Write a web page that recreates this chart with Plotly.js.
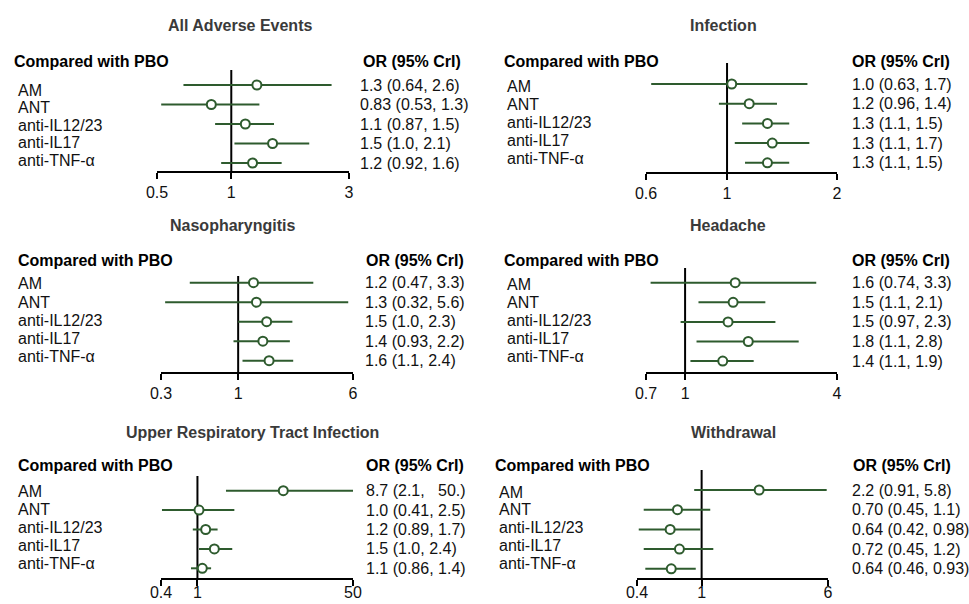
<!DOCTYPE html>
<html>
<head>
<meta charset="utf-8">
<script src="https://cdn.plot.ly/plotly-3.0.1.min.js"></script>
<style>html,body{margin:0;padding:0;background:#fff;}#chart{width:969px;height:604px;}</style>
</head>
<body>
<div id="chart"></div>
<script>
// ---------- data ----------
const treatments = ['AM', 'ANT', 'anti-IL12/23', 'anti-IL17', 'anti-TNF-\u03b1'];
const panelTitles = ['All Adverse Events', 'Infection', 'Nasopharyngitis', 'Headache', 'Upper Respiratory Tract Infection', 'Withdrawal'];
const tickValues = [[0.5, 1, 3], [0.6, 1, 2], [0.3, 1, 6], [0.7, 1, 4], [0.4, 1, 50], [0.4, 1, 6]];
const tickLabels = [['0.5', '1', '3'], ['0.6', '1', '2'], ['0.3', '1', '6'], ['0.7', '1', '4'], ['0.4', '1', '50'], ['0.4', '1', '6']];

const aeEst = [1.27, 0.83, 1.14, 1.47, 1.22];
const aeLo  = [0.64, 0.52, 0.86, 1.03, 0.91];
const aeHi  = [2.55, 1.30, 1.49, 2.07, 1.60];
const aeText = ['1.3 (0.64, 2.6)', '0.83 (0.53, 1.3)', '1.1 (0.87, 1.5)', '1.5 (1.0, 2.1)', '1.2 (0.92, 1.6)'];

const infEst = [1.03, 1.15, 1.29, 1.33, 1.29];
const infLo  = [0.62, 0.95, 1.10, 1.05, 1.12];
const infHi  = [1.66, 1.37, 1.48, 1.68, 1.48];
const infText = ['1.0 (0.63, 1.7)', '1.2 (0.96, 1.4)', '1.3 (1.1, 1.5)', '1.3 (1.1, 1.7)', '1.3 (1.1, 1.5)'];

const nasEst = [1.27, 1.33, 1.56, 1.47, 1.62];
const nasLo  = [0.47, 0.32, 1.00, 0.93, 1.07];
const nasHi  = [3.23, 5.57, 2.33, 2.24, 2.36];
const nasText = ['1.2 (0.47, 3.3)', '1.3 (0.32, 5.6)', '1.5 (1.0, 2.3)', '1.4 (0.93, 2.2)', '1.6 (1.1, 2.4)'];

const hdEst = [1.58, 1.55, 1.48, 1.78, 1.41];
const hdLo  = [0.73, 1.13, 0.96, 1.11, 1.05];
const hdHi  = [3.31, 2.08, 2.28, 2.82, 1.87];
const hdText = ['1.6 (0.74, 3.3)', '1.5 (1.1, 2.1)', '1.5 (0.97, 2.3)', '1.8 (1.1, 2.8)', '1.4 (1.1, 1.9)'];

const urEst = [8.66, 1.04, 1.23, 1.53, 1.13];
const urLo  = [2.05, 0.41, 0.89, 1.04, 0.85];
const urHi  = [50, 2.53, 1.66, 2.40, 1.41];
const urText = ['8.7 (2.1,\u00a0\u00a0 50.)', '1.0 (0.41, 2.5)', '1.2 (0.89, 1.7)', '1.5 (1.0, 2.4)', '1.1 (0.86, 1.4)'];

const wdEst = [2.26, 0.71, 0.64, 0.73, 0.65];
const wdLo  = [0.90, 0.44, 0.41, 0.44, 0.45];
const wdHi  = [5.89, 1.13, 0.98, 1.18, 0.92];
const wdText = ['2.2 (0.91, 5.8)', '0.70 (0.45, 1.1)', '0.64 (0.42, 0.98)', '0.72 (0.45, 1.2)', '0.64 (0.46, 0.93)'];

const estimates = [aeEst, infEst, nasEst, hdEst, urEst, wdEst];
const lowers = [aeLo, infLo, nasLo, hdLo, urLo, wdLo];
const uppers = [aeHi, infHi, nasHi, hdHi, urHi, wdHi];
const orTexts = [aeText, infText, nasText, hdText, urText, wdText];

// ---------- layout geometry (pixels) ----------
const W = 969, H = 604;
const geo = [
  {x0:157, x1:349, axisY:171, refTop:70,  rowAM:85,    step:19.5, labX:16,  labOff:5, labStep:17.5, orX:358, orHdrX:361, hdrX:12,  hdrY:62,  tX:240, tY:25,  standoff:0},
  {x0:646, x1:837, axisY:172, refTop:63,  rowAM:84,    step:19.7, labX:505, labOff:2, labStep:18,   orX:850, orHdrX:850, hdrX:502, hdrY:61,  tX:723, tY:25,  standoff:0},
  {x0:161, x1:353, axisY:372, refTop:276, rowAM:282.7, step:19.5, labX:16,  labOff:1, labStep:18.3, orX:363, orHdrX:364, hdrX:16,  hdrY:260, tX:232, tY:225, standoff:0},
  {x0:646, x1:837, axisY:372, refTop:268, rowAM:282.7, step:19.6, labX:505, labOff:2, labStep:18,   orX:850, orHdrX:850, hdrX:502, hdrY:260, tX:728, tY:225, standoff:0},
  {x0:161, x1:353, axisY:578, refTop:476, rowAM:490.7, step:19.4, labX:16,  labOff:1, labStep:17.9, orX:364, orHdrX:364, hdrX:16,  hdrY:465, tX:252, tY:432, standoff:-7},
  {x0:637, x1:828, axisY:578, refTop:470, rowAM:490,   step:19.7, labX:497, labOff:2, labStep:17.8, orX:850, orHdrX:851, hdrX:493, hdrY:465, tX:733, tY:432, standoff:-7}
];

const GREEN = '#2e5b2e';
const FONT = 'Arial, "Liberation Sans", sans-serif';
const rowVals = [4, 3, 2, 1, 0];

const traces = [];
const layout = {
  width: W, height: H,
  margin: {l: 0, r: 0, t: 0, b: 0},
  paper_bgcolor: '#fff', plot_bgcolor: '#fff',
  showlegend: false,
  font: {family: FONT, size: 16, color: '#111'},
  annotations: []
};

geo.forEach((g, k) => {
  const n = k + 1;
  const xa = 'xaxis' + (n === 1 ? '' : n), ya = 'yaxis' + (n === 1 ? '' : n);
  const xr = 'x' + (n === 1 ? '' : n), yr = 'y' + (n === 1 ? '' : n);
  const tv = tickValues[k];
  const yBottom = 4 - (g.axisY - g.rowAM) / g.step;
  const yTop = 4 - (g.refTop - g.rowAM) / g.step;

  layout[xa] = {
    type: 'log', domain: [g.x0 / W, g.x1 / W], anchor: yr,
    range: [Math.log10(tv[0]), Math.log10(tv[tv.length - 1])],
    tickvals: tv, ticktext: tickLabels[k],
    ticks: 'outside', ticklen: 6, tickwidth: 2, tickcolor: '#000',
    ticklabelstandoff: g.standoff,
    showline: true, linewidth: 2, linecolor: '#000',
    showgrid: false, zeroline: false, fixedrange: true,
    tickfont: {family: FONT, size: 16, color: '#111'}
  };
  layout[ya] = {
    domain: [1 - g.axisY / H, 1 - g.refTop / H], anchor: xr,
    range: [yBottom, yTop], visible: false, fixedrange: true
  };

  // reference line at OR = 1
  traces.push({
    type: 'scatter', mode: 'lines', x: [1, 1], y: [yBottom, yTop],
    xaxis: xr, yaxis: yr, line: {color: '#000', width: 2},
    hoverinfo: 'skip', cliponaxis: false
  });

  const est = estimates[k];
  traces.push({
    type: 'scatter', mode: 'markers', x: est, y: rowVals,
    xaxis: xr, yaxis: yr, cliponaxis: false,
    error_x: {
      type: 'data', symmetric: false,
      array: est.map((v, i) => uppers[k][i] - v),
      arrayminus: est.map((v, i) => v - lowers[k][i]),
      thickness: 2, width: 0, color: GREEN
    },
    marker: {symbol: 'circle', size: 9, color: '#fff', line: {color: GREEN, width: 2}},
    text: treatments, hoverinfo: 'text+x'
  });

  // titles and headers
  layout.annotations.push({
    xref: 'paper', yref: 'paper', x: g.tX / W, y: 1 - g.tY / H,
    xanchor: 'center', yanchor: 'middle', showarrow: false,
    text: '<b>' + panelTitles[k] + '</b>', font: {family: FONT, size: 16, color: '#3a3a3a'}
  });
  layout.annotations.push({
    xref: 'paper', yref: 'paper', x: g.hdrX / W, y: 1 - g.hdrY / H,
    xanchor: 'left', yanchor: 'middle', showarrow: false,
    text: '<b>Compared with PBO</b>', font: {family: FONT, size: 16, color: '#000'}
  });
  layout.annotations.push({
    xref: 'paper', yref: 'paper', x: g.orHdrX / W, y: 1 - g.hdrY / H,
    xanchor: 'left', yanchor: 'middle', showarrow: false,
    text: '<b>OR (95% CrI)</b>', font: {family: FONT, size: 16, color: '#000'}
  });

  treatments.forEach((t, i) => {
    const drop = g.labOff + (g.labStep - g.step) * i;
    layout.annotations.push({
      xref: 'paper', yref: yr, x: g.labX / W, y: rowVals[i], yshift: -drop,
      xanchor: 'left', yanchor: 'middle', showarrow: false,
      text: t, font: {family: FONT, size: 16, color: '#111'}
    });
    layout.annotations.push({
      xref: 'paper', yref: yr, x: g.orX / W, y: rowVals[i],
      xanchor: 'left', yanchor: 'middle', showarrow: false,
      text: orTexts[k][i], font: {family: FONT, size: 16, color: '#111'}
    });
  });
});

Plotly.newPlot('chart', traces, layout, {displayModeBar: false, staticPlot: true});
</script>
</body>
</html>
